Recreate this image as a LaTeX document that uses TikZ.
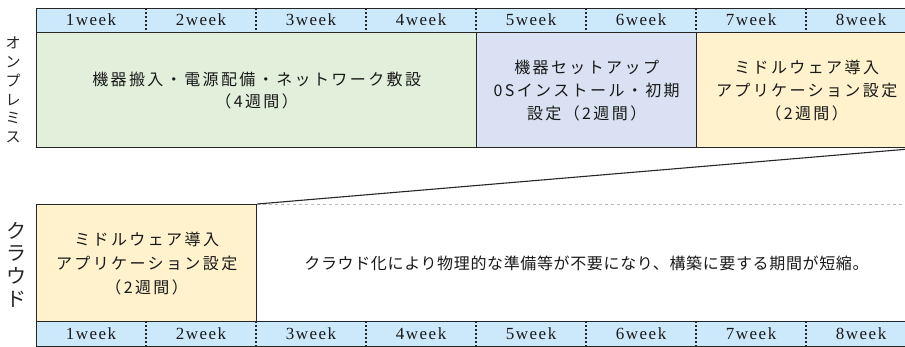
\documentclass[tikz,border=0pt]{standalone}
\usepackage{fontspec}
\setmainfont{Liberation Serif}
\newfontfamily\wkfont{Liberation Serif}[LetterSpace=9]
\newfontfamily\jpA{Noto Sans CJK JP}[LetterSpace=15]
\newfontfamily\jpB{Noto Sans CJK JP}[LetterSpace=4]
\newfontfamily\jpC{Noto Sans CJK JP}
\definecolor{hdr}{HTML}{CCE8FB}
\definecolor{grn}{HTML}{E2EFDA}
\definecolor{blu}{HTML}{D9E1F2}
\definecolor{yel}{HTML}{FFF2CC}
\definecolor{edge}{HTML}{262626}
\tikzset{
  pbox/.style={draw=edge, line width=1.3pt, inner sep=0pt, anchor=north west, align=center},
  hbox/.style={pbox, fill=hdr, minimum width=880pt, minimum height=24pt},
  wk/.style={font=\wkfont\fontsize{17}{18}\selectfont, text=black!90, inner sep=0pt},
  sep/.style={draw=edge, line width=1.2pt, dash pattern=on 2pt off 2pt},
  jpt/.style={font=\jpA\fontsize{16}{23}\selectfont, text=black!90},
}
\begin{document}
\begin{tikzpicture}[x=1pt,y=-1pt]
\useasboundingbox (0,0) rectangle (905,346);
% top section
\node[hbox] (th) at (36,8) {};
\node[pbox, fill=grn, minimum width=440pt, minimum height=115pt, jpt, font=\jpA\fontsize{16}{22}\selectfont] (tg) at (36,32)
  {機器搬入・電源配備・ネットワーク敷設\\（4週間）};
\node[pbox, fill=blu, minimum width=220pt, minimum height=115pt, jpt] (tb) at (476,32)
  {機器セットアップ\\0Sインストール・初期\\設定（2週間）};
\node[pbox, fill=yel, minimum width=220pt, minimum height=115pt, jpt] (ty) at (696,32)
  {ミドルウェア導入\\アプリケーション設定\\（2週間）};
\foreach \i in {1,...,7} {\draw[sep] (36+110*\i,8) -- (36+110*\i,32);}
\foreach \i in {1,...,8} {\node[wk] (tw\i) at (91+110*\i-110,20) {\i week};}
\node[font=\jpC\fontsize{15}{18.8}\selectfont, align=center, text=black!85, inner sep=0pt] (lab1) at (13,90)
  {オ\\ン\\プ\\レ\\ミ\\ス};
% bottom section
\node[pbox, draw=gray!55, line width=1pt, dashed, minimum width=660pt, minimum height=117pt,
  font=\jpB\fontsize{16}{20}\selectfont, text=black!90] (cw) at (256,204)
  {クラウド化により物理的な準備等が不要になり、構築に要する期間が短縮。};
\node[pbox, fill=yel, minimum width=220pt, minimum height=117pt, jpt, font=\jpA\fontsize{16}{24}\selectfont] (cy) at (36,204)
  {ミドルウェア導入\\アプリケーション設定\\（2週間）};
\node[hbox, minimum height=25pt] (bh) at (36,321) {};
\foreach \i in {1,...,7} {\draw[sep] (36+110*\i,321) -- (36+110*\i,346);}
\foreach \i in {1,...,8} {\node[wk] (bw\i) at (91+110*\i-110,334) {\i week};}
\node[font=\jpC\fontsize{20}{22.7}\selectfont, align=center, text=black!85, inner sep=0pt] (lab2) at (16,264.5)
  {ク\\ラ\\ウ\\ド};
% connector
\draw[line width=1.1pt, draw=edge] (cy.north east) -- (ty.south east);
\end{tikzpicture}
\end{document}
